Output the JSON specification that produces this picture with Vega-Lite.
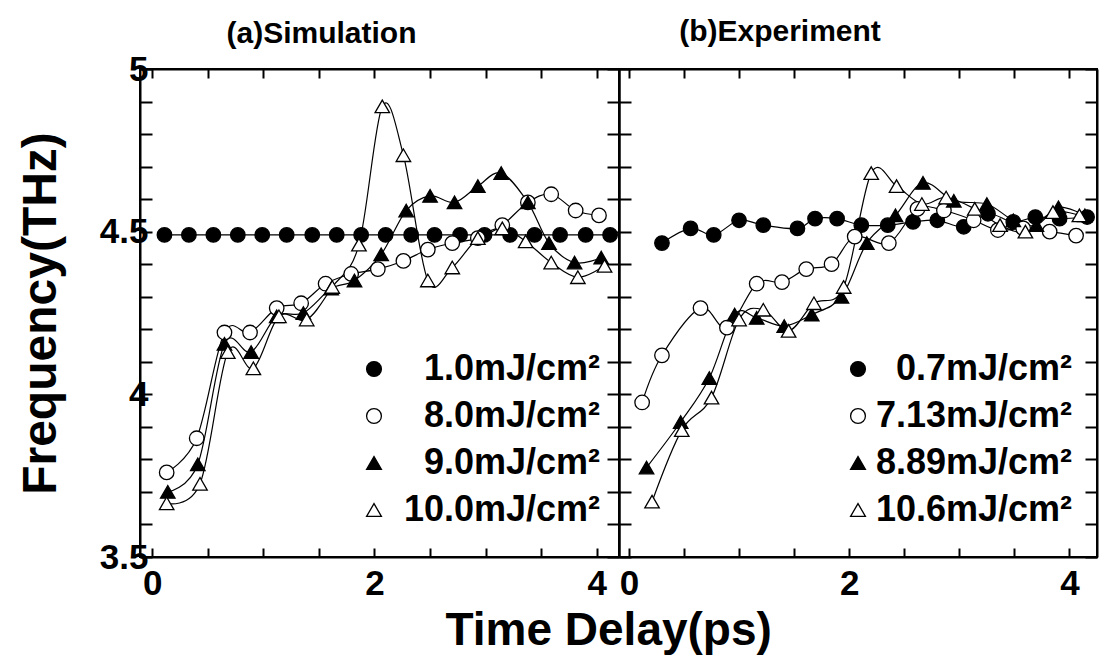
{
  "$schema": "https://vega.github.io/schema/vega-lite/v6.json",
  "background": "white",
  "padding": {"left": 16, "top": 16, "right": 2, "bottom": 4},
  "datasets": {
    "simulation": [
      {"s": "1.0mJ/cm²", "t": 0.11, "f": 4.49}, {"s": "1.0mJ/cm²", "t": 0.33, "f": 4.49}, {"s": "1.0mJ/cm²", "t": 0.55, "f": 4.49}, {"s": "1.0mJ/cm²", "t": 0.77, "f": 4.49}, {"s": "1.0mJ/cm²", "t": 0.99, "f": 4.49}, {"s": "1.0mJ/cm²", "t": 1.21, "f": 4.49}, {"s": "1.0mJ/cm²", "t": 1.44, "f": 4.49}, {"s": "1.0mJ/cm²", "t": 1.66, "f": 4.49}, {"s": "1.0mJ/cm²", "t": 1.88, "f": 4.49}, {"s": "1.0mJ/cm²", "t": 2.10, "f": 4.49}, {"s": "1.0mJ/cm²", "t": 2.33, "f": 4.49}, {"s": "1.0mJ/cm²", "t": 2.54, "f": 4.49}, {"s": "1.0mJ/cm²", "t": 2.77, "f": 4.49}, {"s": "1.0mJ/cm²", "t": 2.99, "f": 4.49}, {"s": "1.0mJ/cm²", "t": 3.22, "f": 4.49}, {"s": "1.0mJ/cm²", "t": 3.44, "f": 4.49}, {"s": "1.0mJ/cm²", "t": 3.67, "f": 4.49}, {"s": "1.0mJ/cm²", "t": 3.90, "f": 4.49}, {"s": "1.0mJ/cm²", "t": 4.12, "f": 4.49},
      {"s": "8.0mJ/cm²", "t": 0.13, "f": 3.76}, {"s": "8.0mJ/cm²", "t": 0.40, "f": 3.865}, {"s": "8.0mJ/cm²", "t": 0.65, "f": 4.19}, {"s": "8.0mJ/cm²", "t": 0.88, "f": 4.19}, {"s": "8.0mJ/cm²", "t": 1.12, "f": 4.265}, {"s": "8.0mJ/cm²", "t": 1.34, "f": 4.28}, {"s": "8.0mJ/cm²", "t": 1.56, "f": 4.34}, {"s": "8.0mJ/cm²", "t": 1.79, "f": 4.37}, {"s": "8.0mJ/cm²", "t": 2.03, "f": 4.385}, {"s": "8.0mJ/cm²", "t": 2.26, "f": 4.41}, {"s": "8.0mJ/cm²", "t": 2.48, "f": 4.445}, {"s": "8.0mJ/cm²", "t": 2.70, "f": 4.465}, {"s": "8.0mJ/cm²", "t": 2.93, "f": 4.48}, {"s": "8.0mJ/cm²", "t": 3.15, "f": 4.52}, {"s": "8.0mJ/cm²", "t": 3.38, "f": 4.59}, {"s": "8.0mJ/cm²", "t": 3.59, "f": 4.615}, {"s": "8.0mJ/cm²", "t": 3.81, "f": 4.565}, {"s": "8.0mJ/cm²", "t": 4.02, "f": 4.55},
      {"s": "9.0mJ/cm²", "t": 0.14, "f": 3.70}, {"s": "9.0mJ/cm²", "t": 0.41, "f": 3.785}, {"s": "9.0mJ/cm²", "t": 0.65, "f": 4.155}, {"s": "9.0mJ/cm²", "t": 0.89, "f": 4.13}, {"s": "9.0mJ/cm²", "t": 1.12, "f": 4.24}, {"s": "9.0mJ/cm²", "t": 1.36, "f": 4.25}, {"s": "9.0mJ/cm²", "t": 1.61, "f": 4.325}, {"s": "9.0mJ/cm²", "t": 1.82, "f": 4.35}, {"s": "9.0mJ/cm²", "t": 2.06, "f": 4.43}, {"s": "9.0mJ/cm²", "t": 2.285, "f": 4.565}, {"s": "9.0mJ/cm²", "t": 2.50, "f": 4.61}, {"s": "9.0mJ/cm²", "t": 2.72, "f": 4.59}, {"s": "9.0mJ/cm²", "t": 2.93, "f": 4.64}, {"s": "9.0mJ/cm²", "t": 3.14, "f": 4.68}, {"s": "9.0mJ/cm²", "t": 3.38, "f": 4.59}, {"s": "9.0mJ/cm²", "t": 3.57, "f": 4.465}, {"s": "9.0mJ/cm²", "t": 3.80, "f": 4.405}, {"s": "9.0mJ/cm²", "t": 4.04, "f": 4.42},
      {"s": "10.0mJ/cm²", "t": 0.13, "f": 3.665}, {"s": "10.0mJ/cm²", "t": 0.43, "f": 3.725}, {"s": "10.0mJ/cm²", "t": 0.68, "f": 4.13}, {"s": "10.0mJ/cm²", "t": 0.91, "f": 4.08}, {"s": "10.0mJ/cm²", "t": 1.14, "f": 4.24}, {"s": "10.0mJ/cm²", "t": 1.39, "f": 4.23}, {"s": "10.0mJ/cm²", "t": 1.62, "f": 4.33}, {"s": "10.0mJ/cm²", "t": 1.86, "f": 4.46}, {"s": "10.0mJ/cm²", "t": 2.07, "f": 4.885}, {"s": "10.0mJ/cm²", "t": 2.26, "f": 4.735}, {"s": "10.0mJ/cm²", "t": 2.48, "f": 4.35}, {"s": "10.0mJ/cm²", "t": 2.70, "f": 4.39}, {"s": "10.0mJ/cm²", "t": 2.93, "f": 4.48}, {"s": "10.0mJ/cm²", "t": 3.15, "f": 4.51}, {"s": "10.0mJ/cm²", "t": 3.36, "f": 4.47}, {"s": "10.0mJ/cm²", "t": 3.59, "f": 4.405}, {"s": "10.0mJ/cm²", "t": 3.83, "f": 4.36}, {"s": "10.0mJ/cm²", "t": 4.07, "f": 4.395}
    ],
    "experiment": [
      {"s": "0.7mJ/cm²", "t": 0.30, "f": 4.465}, {"s": "0.7mJ/cm²", "t": 0.56, "f": 4.51}, {"s": "0.7mJ/cm²", "t": 0.77, "f": 4.49}, {"s": "0.7mJ/cm²", "t": 1.00, "f": 4.535}, {"s": "0.7mJ/cm²", "t": 1.22, "f": 4.52}, {"s": "0.7mJ/cm²", "t": 1.53, "f": 4.51}, {"s": "0.7mJ/cm²", "t": 1.69, "f": 4.54}, {"s": "0.7mJ/cm²", "t": 1.89, "f": 4.54}, {"s": "0.7mJ/cm²", "t": 2.11, "f": 4.52}, {"s": "0.7mJ/cm²", "t": 2.35, "f": 4.52}, {"s": "0.7mJ/cm²", "t": 2.58, "f": 4.53}, {"s": "0.7mJ/cm²", "t": 2.80, "f": 4.535}, {"s": "0.7mJ/cm²", "t": 3.04, "f": 4.515}, {"s": "0.7mJ/cm²", "t": 3.26, "f": 4.555}, {"s": "0.7mJ/cm²", "t": 3.49, "f": 4.53}, {"s": "0.7mJ/cm²", "t": 3.69, "f": 4.545}, {"s": "0.7mJ/cm²", "t": 3.91, "f": 4.54}, {"s": "0.7mJ/cm²", "t": 4.16, "f": 4.545},
      {"s": "7.13mJ/cm²", "t": 0.12, "f": 3.975}, {"s": "7.13mJ/cm²", "t": 0.30, "f": 4.12}, {"s": "7.13mJ/cm²", "t": 0.65, "f": 4.265}, {"s": "7.13mJ/cm²", "t": 0.89, "f": 4.205}, {"s": "7.13mJ/cm²", "t": 1.16, "f": 4.34}, {"s": "7.13mJ/cm²", "t": 1.39, "f": 4.345}, {"s": "7.13mJ/cm²", "t": 1.61, "f": 4.385}, {"s": "7.13mJ/cm²", "t": 1.84, "f": 4.40}, {"s": "7.13mJ/cm²", "t": 2.05, "f": 4.485}, {"s": "7.13mJ/cm²", "t": 2.36, "f": 4.465}, {"s": "7.13mJ/cm²", "t": 2.62, "f": 4.57}, {"s": "7.13mJ/cm²", "t": 2.86, "f": 4.565}, {"s": "7.13mJ/cm²", "t": 3.13, "f": 4.535}, {"s": "7.13mJ/cm²", "t": 3.35, "f": 4.505}, {"s": "7.13mJ/cm²", "t": 3.58, "f": 4.51}, {"s": "7.13mJ/cm²", "t": 3.82, "f": 4.50}, {"s": "7.13mJ/cm²", "t": 4.06, "f": 4.488},
      {"s": "8.89mJ/cm²", "t": 0.16, "f": 3.775}, {"s": "8.89mJ/cm²", "t": 0.47, "f": 3.915}, {"s": "8.89mJ/cm²", "t": 0.73, "f": 4.05}, {"s": "8.89mJ/cm²", "t": 0.96, "f": 4.245}, {"s": "8.89mJ/cm²", "t": 1.16, "f": 4.235}, {"s": "8.89mJ/cm²", "t": 1.41, "f": 4.21}, {"s": "8.89mJ/cm²", "t": 1.66, "f": 4.245}, {"s": "8.89mJ/cm²", "t": 1.93, "f": 4.30}, {"s": "8.89mJ/cm²", "t": 2.16, "f": 4.465}, {"s": "8.89mJ/cm²", "t": 2.42, "f": 4.55}, {"s": "8.89mJ/cm²", "t": 2.67, "f": 4.65}, {"s": "8.89mJ/cm²", "t": 2.95, "f": 4.595}, {"s": "8.89mJ/cm²", "t": 3.25, "f": 4.585}, {"s": "8.89mJ/cm²", "t": 3.49, "f": 4.535}, {"s": "8.89mJ/cm²", "t": 3.70, "f": 4.52}, {"s": "8.89mJ/cm²", "t": 3.90, "f": 4.575}, {"s": "8.89mJ/cm²", "t": 4.14, "f": 4.55},
      {"s": "10.6mJ/cm²", "t": 0.21, "f": 3.67}, {"s": "10.6mJ/cm²", "t": 0.48, "f": 3.89}, {"s": "10.6mJ/cm²", "t": 0.75, "f": 3.99}, {"s": "10.6mJ/cm²", "t": 1.00, "f": 4.23}, {"s": "10.6mJ/cm²", "t": 1.22, "f": 4.26}, {"s": "10.6mJ/cm²", "t": 1.45, "f": 4.195}, {"s": "10.6mJ/cm²", "t": 1.68, "f": 4.28}, {"s": "10.6mJ/cm²", "t": 1.95, "f": 4.33}, {"s": "10.6mJ/cm²", "t": 2.20, "f": 4.68}, {"s": "10.6mJ/cm²", "t": 2.43, "f": 4.64}, {"s": "10.6mJ/cm²", "t": 2.66, "f": 4.585}, {"s": "10.6mJ/cm²", "t": 2.88, "f": 4.605}, {"s": "10.6mJ/cm²", "t": 3.14, "f": 4.57}, {"s": "10.6mJ/cm²", "t": 3.37, "f": 4.52}, {"s": "10.6mJ/cm²", "t": 3.60, "f": 4.50}, {"s": "10.6mJ/cm²", "t": 3.85, "f": 4.56}, {"s": "10.6mJ/cm²", "t": 4.09, "f": 4.55}
    ]
  },
  "title": {
    "text": "Time Delay(ps)",
    "orient": "bottom",
    "anchor": "middle",
    "dx": 51,
    "offset": 7,
    "font": "Liberation Sans",
    "fontWeight": "bold",
    "fontSize": 46,
    "color": "black"
  },
  "spacing": 0,
  "bounds": "flush",
  "resolve": {"scale": {"x": "independent", "y": "independent", "shape": "independent", "fill": "independent"}},
  "hconcat": [
    {
      "width": 479,
      "height": 488,
      "title": {"text": "(a)Simulation", "dx": -58, "offset": 3},
      "data": {"name": "simulation"},
      "layer": [
        {
          "mark": {"type": "line", "interpolate": "cardinal", "color": "black", "strokeWidth": 1.2},
          "encoding": {
            "x": {"field": "t", "type": "quantitative", "scale": {"domain": [-0.11, 4.2], "nice": false, "zero": false},
                  "axis": {"orient": "bottom", "title": null, "values": [0, 0.5, 1, 1.5, 2, 2.5, 3, 3.5, 4], "format": "~g", "labelExpr": "datum.value % 2 == 0 ? datum.label : ''", "tickSize": -9, "labelPadding": 18}},
            "y": {"field": "f", "type": "quantitative", "scale": {"domain": [3.5, 5], "nice": false, "zero": false},
                  "axis": {"orient": "left", "title": "Frequency(THz)", "values": [3.5, 3.6, 3.7, 3.8, 3.9, 4, 4.1, 4.2, 4.3, 4.4, 4.5, 4.6, 4.7, 4.8, 4.9, 5], "format": "~g", "labelExpr": "abs(datum.value * 2 - round(datum.value * 2)) < 0.01 ? datum.label : ''", "tickSize": -12}},
            "detail": {"field": "s"}
          }
        },
        {
          "mark": {"type": "point", "filled": true, "stroke": "black", "strokeWidth": 1.3, "size": 210, "opacity": 1},
          "encoding": {
            "x": {"field": "t", "type": "quantitative",
                  "axis": {"orient": "top", "title": null, "labels": false, "values": [0, 0.5, 1, 1.5, 2, 2.5, 3, 3.5, 4], "tickSize": -9}},
            "y": {"field": "f", "type": "quantitative",
                  "axis": {"orient": "right", "title": null, "labels": false, "values": [3.5, 3.6, 3.7, 3.8, 3.9, 4, 4.1, 4.2, 4.3, 4.4, 4.5, 4.6, 4.7, 4.8, 4.9, 5], "tickSize": -12}},
            "shape": {"field": "s", "type": "nominal",
                      "scale": {"domain": ["1.0mJ/cm²", "8.0mJ/cm²", "9.0mJ/cm²", "10.0mJ/cm²"], "range": ["circle", "circle", "triangle-up", "triangle-up"]},
                      "legend": {"orient": "none", "legendX": 216, "legendY": 282, "labelOffset": 208,
                                 "encode": {"symbols": {"update": {"stroke": {"value": "black"}, "strokeWidth": {"value": 1.3}}}}}},
            "fill": {"field": "s", "type": "nominal",
                     "scale": {"domain": ["1.0mJ/cm²", "8.0mJ/cm²", "9.0mJ/cm²", "10.0mJ/cm²"], "range": ["black", "white", "black", "white"]},
                     "legend": {"orient": "none", "legendX": 216, "legendY": 282, "labelOffset": 208,
                                "encode": {"symbols": {"update": {"stroke": {"value": "black"}, "strokeWidth": {"value": 1.3}}}}}}
          }
        }
      ],
      "resolve": {"axis": {"x": "independent", "y": "independent"}}
    },
    {
      "width": 478,
      "height": 488,
      "title": {"text": "(b)Experiment", "dx": -78, "offset": 21},
      "data": {"name": "experiment"},
      "layer": [
        {
          "mark": {"type": "line", "interpolate": "cardinal", "color": "black", "strokeWidth": 1.2},
          "encoding": {
            "x": {"field": "t", "type": "quantitative", "scale": {"domain": [-0.09, 4.25], "nice": false, "zero": false},
                  "axis": {"orient": "bottom", "title": null, "values": [0, 0.5, 1, 1.5, 2, 2.5, 3, 3.5, 4], "format": "~g", "labelExpr": "datum.value % 2 == 0 ? datum.label : ''", "tickSize": -9, "labelPadding": 18}},
            "y": {"field": "f", "type": "quantitative", "scale": {"domain": [3.5, 5], "nice": false, "zero": false},
                  "axis": {"orient": "left", "title": null, "labels": false, "values": [3.5, 3.6, 3.7, 3.8, 3.9, 4, 4.1, 4.2, 4.3, 4.4, 4.5, 4.6, 4.7, 4.8, 4.9, 5], "tickSize": -12}},
            "detail": {"field": "s"}
          }
        },
        {
          "mark": {"type": "point", "filled": true, "stroke": "black", "strokeWidth": 1.3, "size": 210, "opacity": 1},
          "encoding": {
            "x": {"field": "t", "type": "quantitative",
                  "axis": {"orient": "top", "title": null, "labels": false, "values": [0, 0.5, 1, 1.5, 2, 2.5, 3, 3.5, 4], "tickSize": -9}},
            "y": {"field": "f", "type": "quantitative",
                  "axis": {"orient": "right", "title": null, "labels": false, "values": [3.5, 3.6, 3.7, 3.8, 3.9, 4, 4.1, 4.2, 4.3, 4.4, 4.5, 4.6, 4.7, 4.8, 4.9, 5], "tickSize": -12}},
            "shape": {"field": "s", "type": "nominal",
                      "scale": {"domain": ["0.7mJ/cm²", "7.13mJ/cm²", "8.89mJ/cm²", "10.6mJ/cm²"], "range": ["circle", "circle", "triangle-up", "triangle-up"]},
                      "legend": {"orient": "none", "legendX": 221, "legendY": 282, "labelOffset": 196,
                                 "encode": {"symbols": {"update": {"stroke": {"value": "black"}, "strokeWidth": {"value": 1.3}}}}}},
            "fill": {"field": "s", "type": "nominal",
                     "scale": {"domain": ["0.7mJ/cm²", "7.13mJ/cm²", "8.89mJ/cm²", "10.6mJ/cm²"], "range": ["black", "white", "black", "white"]},
                     "legend": {"orient": "none", "legendX": 221, "legendY": 282, "labelOffset": 196,
                                "encode": {"symbols": {"update": {"stroke": {"value": "black"}, "strokeWidth": {"value": 1.3}}}}}}
          }
        }
      ],
      "resolve": {"axis": {"x": "independent", "y": "independent"}}
    }
  ],
  "config": {
    "font": "Liberation Sans",
    "view": {"stroke": "black", "strokeWidth": 2},
    "title": {"font": "Liberation Sans", "fontWeight": "bold", "fontSize": 30, "color": "black", "anchor": "middle"},
    "axis": {
      "grid": false,
      "domainColor": "black",
      "domainWidth": 2,
      "tickColor": "black",
      "tickWidth": 2,
      "labelFont": "Liberation Sans",
      "labelFontWeight": "bold",
      "labelFontSize": 35,
      "labelColor": "black",
      "labelPadding": 4,
      "titleFont": "Liberation Sans",
      "titleFontWeight": "bold",
      "titleFontSize": 48,
      "titleColor": "black",
      "titlePadding": 34,
      "minExtent": 0
    },
    "legend": {
      "title": null,
      "padding": 0,
      "labelFont": "Liberation Sans",
      "labelFontWeight": "bold",
      "labelFontSize": 36,
      "labelColor": "black",
      "labelAlign": "right",
      "labelLimit": 0,
      "symbolSize": 220,
      "symbolStrokeColor": "black",
      "symbolStrokeWidth": 1.3,
      "symbolOpacity": 1,
      "rowPadding": 11
    }
  }
}
